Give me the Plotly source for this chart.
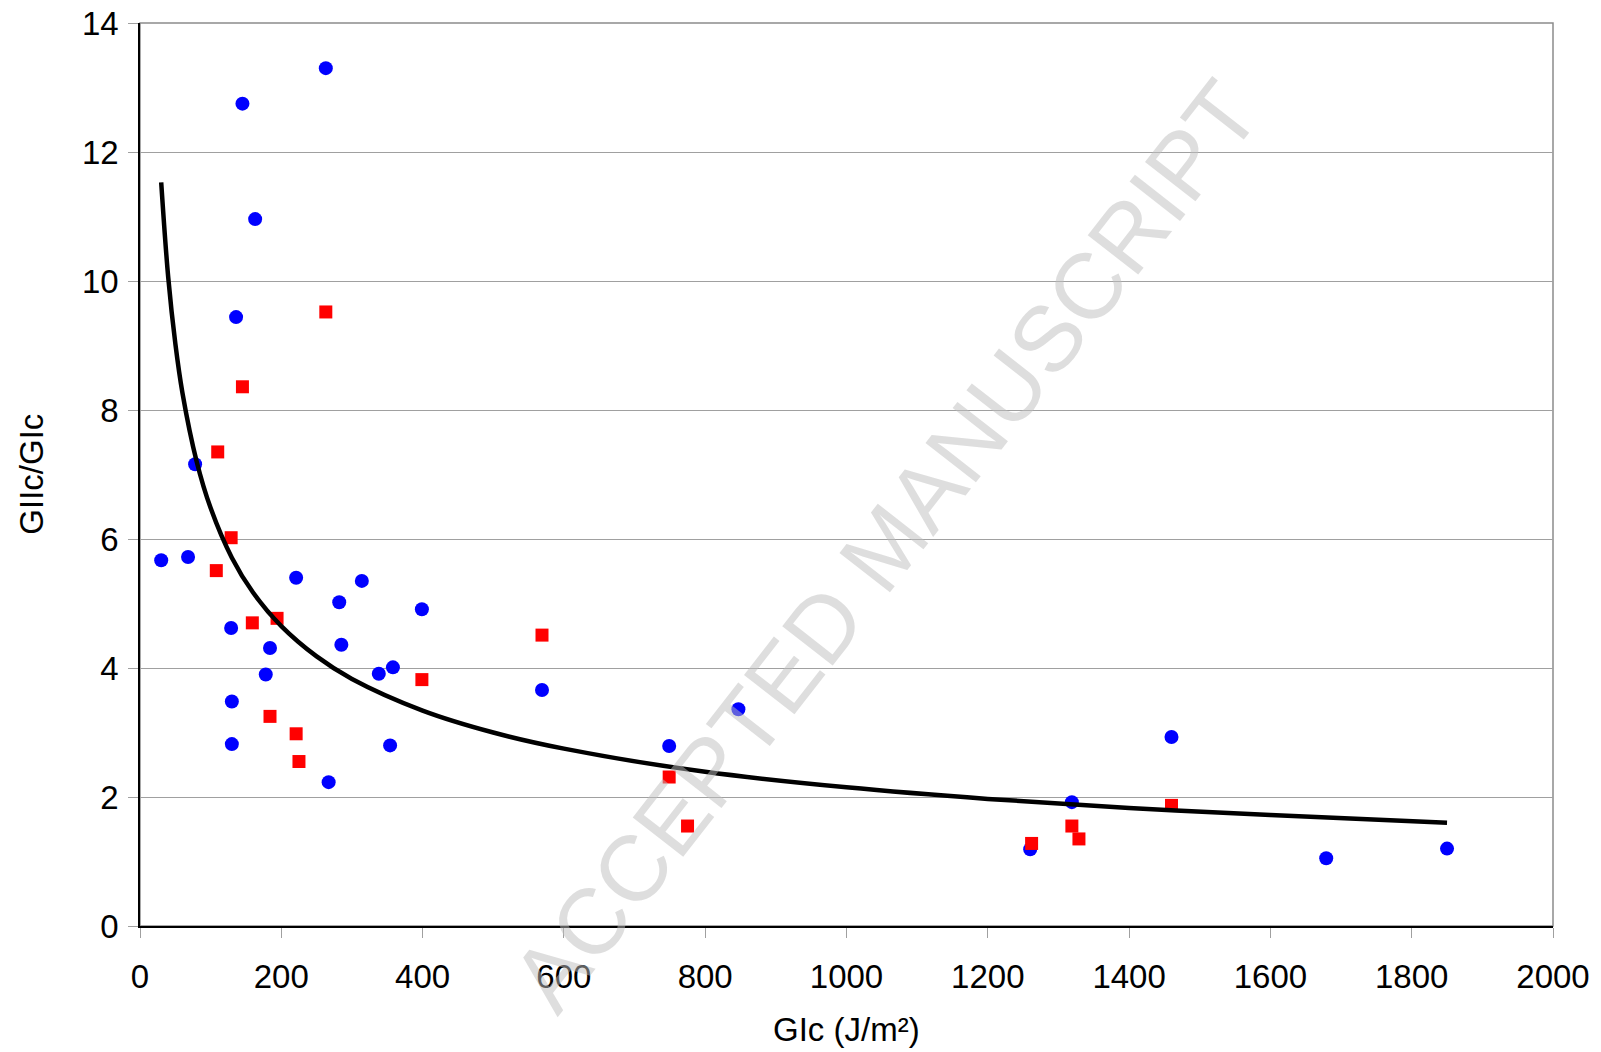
import plotly.graph_objects as go

# Blue circles (GIc, GIIc/GIc)
blue_x = [30, 68, 78, 129, 130, 130, 136, 145, 163, 178, 184, 221, 263, 267, 282, 285,
          314, 338, 354, 358, 399, 569, 749, 847, 1260, 1319, 1460, 1679, 1850]
blue_y = [5.67, 5.72, 7.16, 4.62, 3.48, 2.82, 9.44, 12.75, 10.96, 3.90, 4.31, 5.40, 13.30,
          2.23, 5.02, 4.36, 5.35, 3.91, 2.80, 4.01, 4.91, 3.66, 2.79, 3.36, 1.19, 1.92,
          2.93, 1.05, 1.20]

# Red squares
red_x = [110, 108, 129, 145, 159, 194, 184, 221, 225, 263, 399, 569, 749, 775, 1262,
         1319, 1329, 1460]
red_y = [7.35, 5.51, 6.02, 8.36, 4.70, 4.77, 3.25, 2.98, 2.55, 9.52, 3.82, 4.51, 2.31,
         1.55, 1.28, 1.55, 1.35, 1.87]

# Trend curve
curve_x = [30, 40, 50, 60, 80, 100, 130, 160, 200, 250, 300, 400, 500, 600, 800, 1000,
           1200, 1400, 1600, 1850]
curve_y = [11.53, 10.05, 9.03, 8.27, 7.21, 6.48, 5.71, 5.17, 4.65, 4.18, 3.83, 3.34,
           3.00, 2.75, 2.39, 2.15, 1.97, 1.83, 1.72, 1.60]

x_ticks = [0, 200, 400, 600, 800, 1000, 1200, 1400, 1600, 1800, 2000]
y_ticks = [0, 2, 4, 6, 8, 10, 12, 14]

FONT = "Liberation Sans, Arial, sans-serif"

fig = go.Figure()
fig.add_trace(go.Scatter(x=blue_x, y=blue_y, mode="markers",
                         marker=dict(symbol="circle", size=14, color="#0000FF"),
                         showlegend=False))
fig.add_trace(go.Scatter(x=red_x, y=red_y, mode="markers",
                         marker=dict(symbol="square", size=13, color="#FF0000"),
                         showlegend=False))
fig.add_trace(go.Scatter(x=curve_x, y=curve_y, mode="lines",
                         line=dict(color="black", width=4.5, shape="spline", smoothing=1.0),
                         showlegend=False))

fig.update_layout(
    width=1601, height=1052,
    margin=dict(l=140, r=48, t=23, b=126, autoexpand=False),
    paper_bgcolor="white", plot_bgcolor="white",
    font=dict(family=FONT, size=33, color="black"),
    xaxis=dict(range=[0, 2000], tickvals=x_ticks, showgrid=False, zeroline=False,
               showline=True, linecolor="black", linewidth=1.5, automargin=False,
               ticks="outside", ticklen=10, tickcolor="#a0a0a0", tickwidth=1,
               ticklabelstandoff=11, tickfont=dict(size=33)),
    yaxis=dict(range=[0, 14], tickvals=y_ticks, showgrid=True, gridcolor="#a0a0a0",
               gridwidth=1, zeroline=False, automargin=False,
               showline=True, linecolor="black", linewidth=1.5,
               ticks="outside", ticklen=10, tickcolor="#a0a0a0", tickwidth=1,
               ticklabelstandoff=3, tickfont=dict(size=33)),
    shapes=[dict(type="rect", xref="paper", yref="paper", x0=0, y0=0, x1=1, y1=1,
                 line=dict(color="#8c8c8c", width=1.5), layer="below")],
    annotations=[
        dict(text="GIIc/GIc", xref="paper", yref="paper", x=-0.077, y=0.5,
             textangle=-90, showarrow=False, xanchor="center", yanchor="middle",
             font=dict(size=33)),
        dict(text="GIc (J/m²)", xref="paper", yref="paper", x=0.5, y=-0.115,
             showarrow=False, xanchor="center", yanchor="middle",
             font=dict(size=33)),
        dict(text="ACCEPTED MANUSCRIPT", xref="paper", yref="paper",
             x=(886 - 140) / 1414, y=(926 - 546) / 903, textangle=-52,
             showarrow=False, xanchor="center", yanchor="middle",
             font=dict(size=93, color="rgba(190,190,190,0.5)")),
    ],
)

fig.write_html("out.html")
